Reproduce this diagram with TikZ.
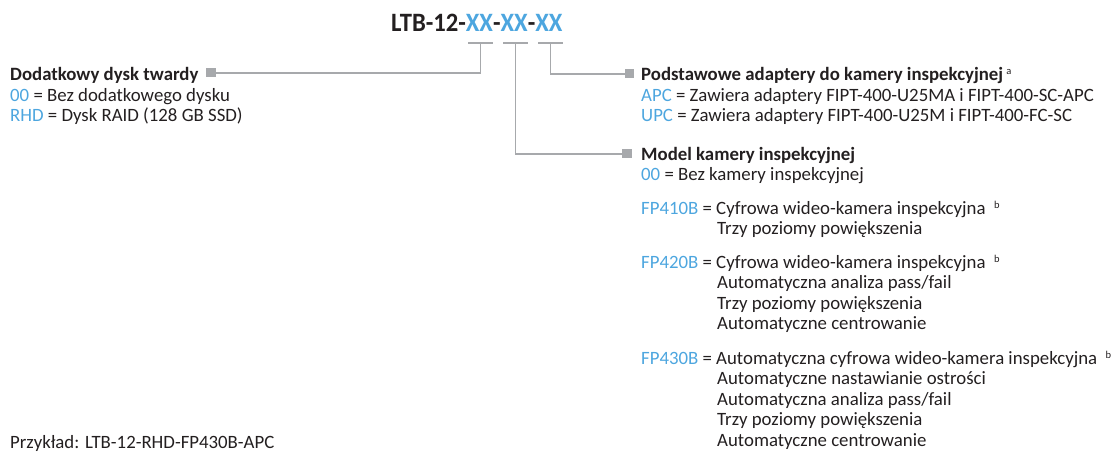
\documentclass[tikz,border=0pt]{standalone}
\usepackage{fontspec}
\setmainfont{Carlito}
\definecolor{codeblue}{HTML}{4DA6DF}
\definecolor{linegray}{HTML}{A7A9AC}
\definecolor{txt}{HTML}{231F20}
\newcommand{\cb}[1]{\textcolor{codeblue}{#1}}
\newcommand{\supx}[1]{\raisebox{5.5pt}{\fontsize{10.5}{10.5}\selectfont\mdseries #1}}
\begin{document}
\begin{tikzpicture}[x=1pt,y=-1pt,
  tl/.style={anchor=base west,inner sep=0,text=txt,font=\fontsize{18.8}{22}\selectfont},
  th/.style={tl,font=\bfseries\fontsize{18.8}{22}\selectfont},
  gl/.style={draw=linegray,line width=1.8},
  sq/.style={fill=linegray,inner sep=0,minimum size=9.5}]
\useasboundingbox (0,0) rectangle (1113,452);
% title
\node[anchor=base west,inner sep=0,text=txt,font=\bfseries\fontsize{26.5}{26.5}\selectfont] (title) at (391,31.7)
  {\scalebox{0.93}[1]{LTB-12-\cb{XX}-\cb{XX}-\cb{XX}}};
% underlines
\coordinate (u1) at (480.5,42.7);
\coordinate (u2) at (515.5,42.7);
\coordinate (u3) at (550.5,42.7);
\draw[gl] (468,42.7) -- (493,42.7);
\draw[gl] (503,42.7) -- (528,42.7);
\draw[gl] (538,42.7) -- (563,42.7);
% squares
\node[sq] (s1) at (211,72.7) {};
\node[sq] (s3) at (629.5,73.7) {};
\node[sq] (s2) at (627,153.7) {};
\draw[gl] (u1) |- (s1.east);
\draw[gl] (u3) |- (s3.west);
\draw[gl] (u2) |- (s2.west);
% left block
\node[th] (l1) at (10,80) {Dodatkowy dysk twardy};
\node[tl] (l2) at (10,101) {\cb{00} = Bez dodatkowego dysku};
\node[tl] (l3) at (10,121.5) {\cb{RHD} = Dysk RAID (128 GB SSD)};
\node[tl] (ex) at (10,448) {Przykład: LTB-12-RHD-FP430B-APC};
% right top block
\node[th] (r1) at (641,80) {Podstawowe adaptery do kamery inspekcyjnej\,\supx{a}};
\node[tl] (r2) at (641,101) {\cb{APC} = Zawiera adaptery FIPT-400-U25MA i FIPT-400-SC-APC};
\node[tl] (r3) at (641,121.5) {\cb{UPC} = Zawiera adaptery FIPT-400-U25M i FIPT-400-FC-SC};
% camera block
\node[th] (m1) at (641,160) {Model kamery inspekcyjnej};
\node[tl] (m2) at (641,180.5) {\cb{00} = Bez kamery inspekcyjnej};
\node[tl] (f1) at (641,214) {\cb{FP410B} = Cyfrowa wideo-kamera inspekcyjna \ \supx{b}};
\node[tl] (f1a) at (717,234.5) {Trzy poziomy powiększenia};
\node[tl] (f2) at (641,268) {\cb{FP420B} = Cyfrowa wideo-kamera inspekcyjna \ \supx{b}};
\node[tl] (f2a) at (717,288.5) {Automatyczna analiza pass/fail};
\node[tl] (f2b) at (717,309) {Trzy poziomy powiększenia};
\node[tl] (f2c) at (717,329.5) {Automatyczne centrowanie};
\node[tl] (f3) at (641,364) {\cb{FP430B} = Automatyczna cyfrowa wideo-kamera inspekcyjna \ \supx{b}};
\node[tl] (f3a) at (717,384.5) {Automatyczne nastawianie ostrości};
\node[tl] (f3b) at (717,405) {Automatyczna analiza pass/fail};
\node[tl] (f3c) at (717,425.5) {Trzy poziomy powiększenia};
\node[tl] (f3d) at (717,446) {Automatyczne centrowanie};
\end{tikzpicture}
\end{document}
